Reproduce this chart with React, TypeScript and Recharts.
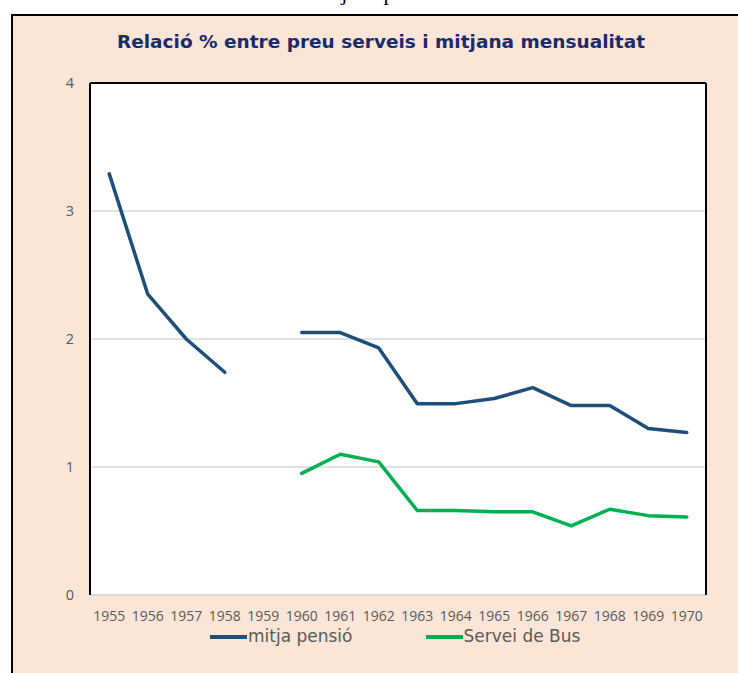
import React from 'react';
import { LineChart, Line, XAxis, YAxis, CartesianGrid, Legend } from 'recharts';

const years = ['1955','1956','1957','1958','1959','1960','1961','1962','1963','1964','1965','1966','1967','1968','1969','1970'];
const pensio: (number | null)[] = [3.29, 2.35, 2.0, 1.74, null, 2.05, 2.05, 1.93, 1.495, 1.495, 1.535, 1.62, 1.48, 1.48, 1.30, 1.27];
const bus: (number | null)[] = [null, null, null, null, null, 0.95, 1.10, 1.04, 0.66, 0.66, 0.65, 0.65, 0.54, 0.67, 0.62, 0.61];
const yTicks = [0, 1, 2, 3, 4];
const seriesOrder = ['pensio', 'bus'];
const seriesNames: Record<string, string> = { pensio: 'mitja pensió', bus: 'Servei de Bus' };
const titleText = 'Relació % entre preu serveis i mitjana mensualitat';
const headingText = 'mitjana pensió';

const data = years.map((y, i) => ({ year: y, pensio: pensio[i], bus: bus[i] }));

const BLUE = '#1F4E79';
const GREEN = '#00B050';
const TICK = '#595959';
const TICK_FONT = 'Open Sans, sans-serif';

const renderLegend = (props: any) => {
  const payload = [...(props.payload || [])].sort(
    (a: any, b: any) => seriesOrder.indexOf(a.dataKey) - seriesOrder.indexOf(b.dataKey)
  );
  return (
    <div style={{ display: 'flex', alignItems: 'center', fontFamily: 'DejaVu Sans, sans-serif', fontSize: 17, color: TICK, lineHeight: '17px' }}>
      {payload.map((entry: any, i: number) => (
        <div key={i} style={{ display: 'flex', alignItems: 'center', marginRight: i === 0 ? 73 : 0 }}>
          <span style={{ display: 'inline-block', width: 37, height: 4, background: entry.color, marginRight: 1 }} />
          <span>{entry.value}</span>
        </div>
      ))}
    </div>
  );
};

export default function App() {
  return (
    <div style={{ position: 'absolute', left: 0, top: 0, width: 738, height: 673, overflow: 'hidden', background: '#fff' }}>
      <svg width={738} height={16} style={{ position: 'absolute', left: 0, top: 0 }}>
        <text x={312} y={-0.5} fontFamily="Liberation Serif, serif" fontSize={22} fill="#000">{headingText}</text>
      </svg>
      <div style={{ position: 'absolute', left: 11, top: 14, width: 760, height: 700, background: '#FBE5D6', borderLeft: '2px solid #000', borderTop: '2px solid #000', boxSizing: 'border-box' }} />
      <div style={{ position: 'absolute', left: 0, top: 31, width: 762, textAlign: 'center', fontFamily: 'DejaVu Sans, sans-serif', fontWeight: 'bold', fontSize: 18.5, color: '#1B2A6B', lineHeight: '22px' }}>
        {titleText}
      </div>
      <div style={{ position: 'absolute', left: 0, top: 0 }}>
        <LineChart width={738} height={673} data={data} margin={{ top: 82, right: 31, bottom: 48, left: 50 }}>
          <CartesianGrid vertical={false} stroke="#D9D9D9" strokeWidth={1.5} fill="#fff" />
          <Line dataKey="pensio" name={seriesNames.pensio} stroke={BLUE} strokeWidth={3.5} dot={false} isAnimationActive={false} connectNulls={false} strokeLinejoin="round" strokeLinecap="round" />
          <Line dataKey="bus" name={seriesNames.bus} stroke={GREEN} strokeWidth={3.5} dot={false} isAnimationActive={false} connectNulls={false} strokeLinejoin="round" strokeLinecap="round" />
          <XAxis dataKey="year" scale="band" tickLine={false} tickSize={0} tickMargin={16} axisLine={{ stroke: '#D9D9D9', strokeWidth: 2 }} interval={0}
            tick={{ fill: TICK, fontSize: 14, fontFamily: TICK_FONT }} height={30} />
          <XAxis xAxisId="top" dataKey="year" scale="band" orientation="top" tick={false} tickLine={false} axisLine={{ stroke: '#000', strokeWidth: 2 }} height={1} />
          <YAxis domain={[0, 4]} ticks={yTicks} tickLine={false} tickSize={0} tickMargin={16} axisLine={{ stroke: '#000', strokeWidth: 2 }} width={40}
            tick={{ fill: TICK, fontSize: 14.5, fontFamily: TICK_FONT }} />
          <YAxis yAxisId="right" orientation="right" domain={[0, 4]} tick={false} tickLine={false} axisLine={{ stroke: '#000', strokeWidth: 2 }} width={1} />
          <Legend verticalAlign="middle" align="center" layout="horizontal" content={renderLegend}
            wrapperStyle={{ top: 628, left: 210, width: 'auto' }} />
        </LineChart>
      </div>
    </div>
  );
}
